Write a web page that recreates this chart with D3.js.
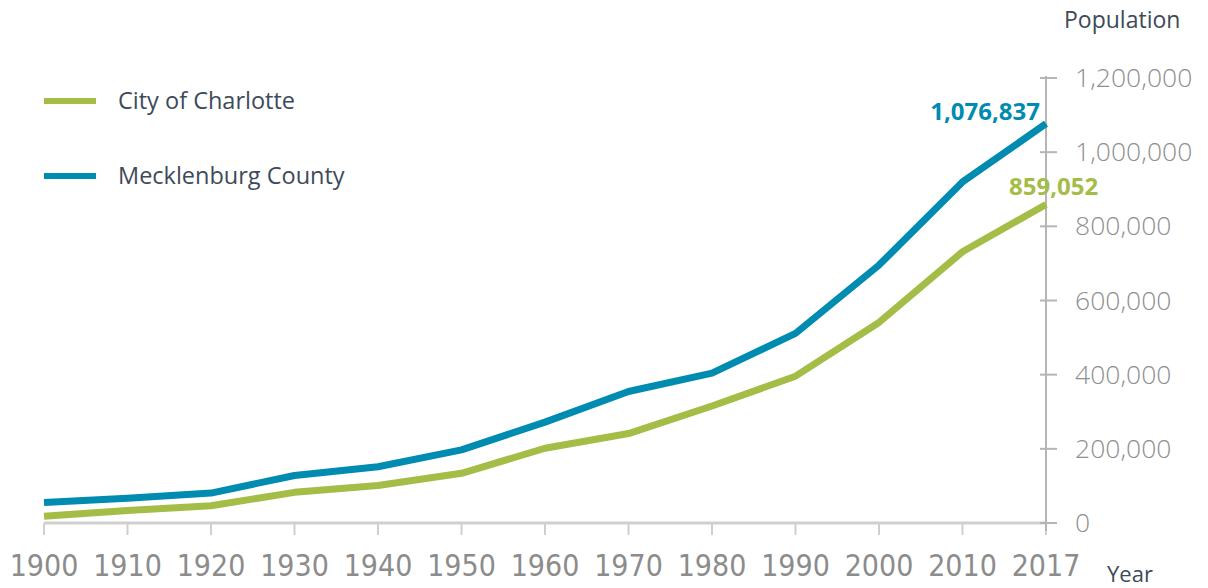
<!DOCTYPE html>
<html>
<head>
<meta charset="utf-8">
<script src="https://cdn.jsdelivr.net/npm/d3@7"></script>
<style>
  html, body { margin: 0; padding: 0; background: #fff; }
  svg { display: block; }
</style>
</head>
<body>
<svg id="chart" width="1208" height="588"></svg>
<script>
// ---- data ----
const years = [1900, 1910, 1920, 1930, 1940, 1950, 1960, 1970, 1980, 1990, 2000, 2010, 2017];
const yearLabels = ["1900","1910","1920","1930","1940","1950","1960","1970","1980","1990","2000","2010","2017"];
const charlotte = [18091, 34014, 46338, 82675, 100899, 134042, 201564, 241178, 315474, 395934, 540828, 731424, 859052];
const mecklenburg = [55268, 67031, 80695, 127971, 151826, 197052, 272111, 354656, 404270, 511433, 695454, 919628, 1076837];
const yTicks = [0, 200000, 400000, 600000, 800000, 1000000, 1200000];
const seriesNames = ["City of Charlotte", "Mecklenburg County"];
const endLabels = ["859,052", "1,076,837"];

const green = "#a4bd46";
const blue = "#008bb1";
const textDark = "#3e4a59";
const axisGray = "#8c8c8c";

const svg = d3.select("#chart");

// x: labels equally spaced (2010 -> 2017 drawn as a full interval)
const x = d3.scaleLinear().domain([1900, 2010, 2017]).range([44, 962.5, 1046]);
const y = d3.scaleLinear().domain([0, 1200000]).range([523, 78]);

// x axis baseline
svg.append("line")
  .attr("x1", x(1900)).attr("x2", x(2017))
  .attr("y1", y(0)).attr("y2", y(0))
  .attr("stroke", "#cfcfcf").attr("stroke-width", 3);

// x ticks + labels
const xg = svg.append("g");
years.forEach((yr, i) => {
  xg.append("line")
    .attr("x1", x(yr)).attr("x2", x(yr))
    .attr("y1", y(0)).attr("y2", y(0) + 12)
    .attr("stroke", "#cfcfcf").attr("stroke-width", 2);
  xg.append("text")
    .attr("x", x(yr)).attr("y", 576)
    .attr("text-anchor", "middle")
    .attr("font-family", "'Liberation Sans Narrow', 'DejaVu Sans Condensed', 'Open Sans', sans-serif")
    .attr("font-stretch", "condensed")
    .attr("font-size", 30)
    .attr("fill", axisGray)
    .text(yearLabels[i]);
});

// y axis (right side)
const yAxisX = x(2017);
svg.append("line")
  .attr("x1", yAxisX).attr("x2", yAxisX)
  .attr("y1", y(1200000) - 2).attr("y2", y(0) + 8)
  .attr("stroke", "#b5b5b5").attr("stroke-width", 2);
const fmt = d3.format(",");
yTicks.forEach(t => {
  svg.append("line")
    .attr("x1", yAxisX - 6).attr("x2", yAxisX + 11)
    .attr("y1", y(t)).attr("y2", y(t))
    .attr("stroke", "#b5b5b5").attr("stroke-width", 2);
  svg.append("text")
    .attr("x", 1075).attr("y", y(t) + 9)
    .attr("font-family", "'Open Sans', sans-serif")
    .attr("font-size", 26.5)
    .attr("font-weight", 300)
    .attr("fill", "#8f8f8f")
    .text(fmt(t));
});

// lines
const line = d3.line()
  .x(d => x(d[0]))
  .y(d => y(d[1]));

const series = [charlotte, mecklenburg];
const colors = [green, blue];
series.forEach((vals, i) => {
  svg.append("path")
    .datum(years.map((yr, j) => [yr, vals[j]]))
    .attr("d", line)
    .attr("fill", "none")
    .attr("stroke", colors[i])
    .attr("stroke-width", 7)
    .attr("stroke-linejoin", "round");
});

// end labels
svg.append("text")
  .attr("x", 1040).attr("y", y(mecklenburg[12]) - 4)
  .attr("text-anchor", "end")
  .attr("font-family", "'Open Sans', sans-serif")
  .attr("font-weight", 700)
  .attr("font-size", 24)
  .attr("fill", blue)
  .text(endLabels[1]);
svg.append("text")
  .attr("x", 1009).attr("y", y(charlotte[12]) - 9)
  .attr("font-family", "'Open Sans', sans-serif")
  .attr("font-weight", 700)
  .attr("font-size", 24)
  .attr("fill", green)
  .text(endLabels[0]);

// legend
const legendY = [101, 176];
seriesNames.forEach((name, i) => {
  svg.append("line")
    .attr("x1", 44).attr("x2", 96)
    .attr("y1", legendY[i]).attr("y2", legendY[i])
    .attr("stroke", colors[i]).attr("stroke-width", 6);
  svg.append("text")
    .attr("x", 118).attr("y", legendY[i] + 8)
    .attr("font-family", "'Open Sans', sans-serif")
    .attr("font-size", 23.5)
    .attr("fill", textDark)
    .text(name);
});

// axis titles
svg.append("text")
  .attr("x", 1064).attr("y", 28)
  .attr("font-family", "'Open Sans', sans-serif")
  .attr("font-size", 23)
  .attr("fill", textDark)
  .text("Population");
svg.append("text")
  .attr("x", 1107).attr("y", 582)
  .attr("font-family", "'Open Sans', sans-serif")
  .attr("font-size", 22)
  .attr("fill", textDark)
  .text("Year");
</script>
</body>
</html>
